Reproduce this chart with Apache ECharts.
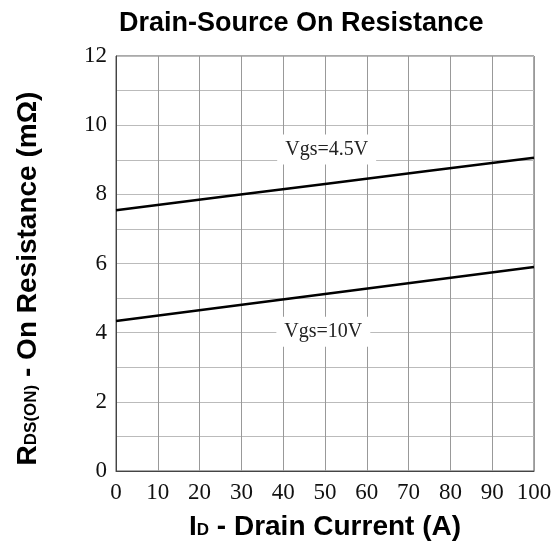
<!DOCTYPE html>
<html><head><meta charset="utf-8">
<script src="https://cdn.jsdelivr.net/npm/echarts@6/dist/echarts.min.js"></script>
<style>html,body{margin:0;padding:0;background:#fff}#c{width:558px;height:546px}</style>
</head><body><div id="c"></div>
<script>
const current = [0, 25, 50, 75, 100];
const vgs45 = [7.54, 7.92, 8.30, 8.68, 9.06];
const vgs10 = [4.34, 4.73, 5.12, 5.51, 5.90];
const xTicks = [0,10,20,30,40,50,60,70,80,90,100];
const yTicks = [0,2,4,6,8,10,12];
const seriesNames = ['Vgs=4.5V', 'Vgs=10V'];

const chart = echarts.init(document.getElementById('c'), null, {renderer:'canvas'});
const serif = '"Liberation Serif", "DejaVu Serif", serif';
const sans = '"Liberation Sans", Arial, sans-serif';
function mk(vals){ return current.map((x,i)=>[x, vals[i]]); }
function lbl(name, coord){
  return { symbol:'rect', symbolSize:[1,1], itemStyle:{color:'rgba(0,0,0,0)'},
    label:{show:true, position:'inside', formatter:name, color:'#222', fontFamily:serif, fontSize:20, letterSpacing:1,
    backgroundColor:'#fff', padding:[5,8,5,8]}, data:[{coord:coord}] };
}
const nameRich = {b:{fontFamily:sans, fontWeight:'bold', fontSize:28, color:'#000'},
  s:{fontFamily:sans, fontWeight:'bold', fontSize:17, color:'#000', verticalAlign:'bottom', padding:[0,0,2,0]}};
chart.setOption({
  animation:false,
  title:{text:'Drain-Source On Resistance', left:114, top:5,
    textStyle:{fontFamily:sans, fontWeight:'bold', fontSize:27, color:'#000'}},
  grid:{left:116, right:24, top:56, bottom:73, show:true, borderColor:'#555', borderWidth:1},
  xAxis:{type:'value', min:0, max:100, interval:10,
    name:'{b|I}{s|D}{b| - Drain Current (A)}', nameLocation:'middle', nameGap:42,
    nameTextStyle:{rich:nameRich},
    axisLine:{show:true, lineStyle:{color:'#444', width:1}}, axisTick:{show:false},
    axisLabel:{fontFamily:serif, fontSize:23, color:'#111', margin:10,
      formatter:v=>xTicks.includes(v)?String(v):''},
    splitLine:{show:true, lineStyle:{color:'#999', width:1}}},
  yAxis:{type:'value', min:0, max:12, interval:1,
    name:'{b|R}{s|DS(ON)}{b| - On Resistance (mΩ)}', nameLocation:'middle', nameGap:74,
    nameTextStyle:{rich:nameRich, padding:[0,30,0,0]},
    axisLine:{show:true, lineStyle:{color:'#444', width:1}}, axisTick:{show:false},
    axisLabel:{fontFamily:serif, fontSize:23, color:'#111', margin:9,
      formatter:v=>yTicks.includes(v)?String(v):''},
    splitLine:{show:true, lineStyle:{color:'#bbb', width:1}}},
  series:[
    {name:seriesNames[0], type:'line', data:mk(vgs45), symbol:'none', lineStyle:{color:'#000', width:2.5}, z:3,
      markPoint:lbl(seriesNames[0], [50.4, 9.3])},
    {name:seriesNames[1], type:'line', data:mk(vgs10), symbol:'none', lineStyle:{color:'#000', width:2.5}, z:3,
      markPoint:lbl(seriesNames[1], [49.6, 4.03])}
  ]
});
</script></body></html>
